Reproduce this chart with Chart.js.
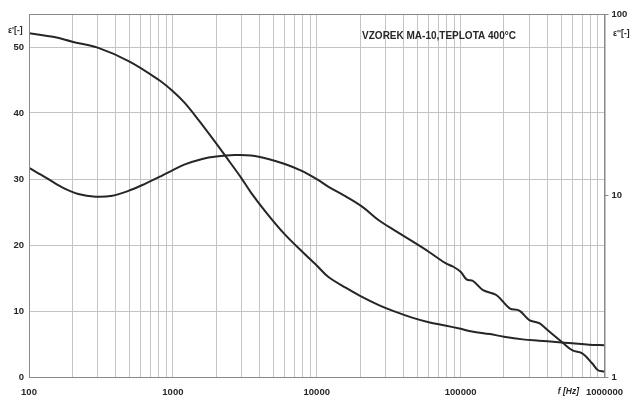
<!DOCTYPE html>
<html>
<head>
<meta charset="utf-8">
<script src="https://cdn.jsdelivr.net/npm/chart.js@4.4.1/dist/chart.umd.min.js"></script>
<style>
  html, body { margin: 0; padding: 0; background: #fff; }
  #wrap { width: 633px; height: 399px; }
</style>
</head>
<body>
<div id="wrap"><canvas id="chart" width="633" height="399"></canvas></div>
<script>
// eps' (left axis)
const freqReal = [100, 150, 200, 300, 500, 800, 1000, 1200, 1500, 2000, 2500, 3000, 3500, 4500, 6000, 8000,
  10000, 12000, 16000, 20000, 27000, 35000, 46000, 60000, 78000, 100000, 120000, 160000, 200000, 270000,
  350000, 460000, 600000, 780000, 1000000];
const epsReal = [52.1, 51.5, 50.8, 49.9, 47.8, 45.0, 43.3, 41.6, 39.0, 35.4, 32.5, 30.1, 27.9, 24.8, 21.6, 18.9,
  16.9, 15.2, 13.5, 12.3, 10.9, 9.9, 9.0, 8.3, 7.8, 7.3, 6.9, 6.5, 6.1, 5.7,
  5.5, 5.3, 5.1, 4.9, 4.8];

// eps'' (right log axis)
const freqImag = [100, 130, 170, 220, 290, 380, 490, 640, 830, 1000, 1200, 1600, 2000, 2700, 3500, 4600, 6000,
  7800, 10000, 12000, 16000, 21000, 27000, 35000, 46000, 60000, 78000, 89000, 100000, 110000, 122000, 143000,
  177000, 219000, 256000, 300000, 352000, 413000, 510000, 600000, 700000, 820000, 900000, 1000000];
const epsImag = [14.2, 12.6, 11.1, 10.2, 9.85, 9.97, 10.6, 11.6, 12.8, 13.8, 14.8, 15.9, 16.4, 16.7, 16.6, 15.9, 14.9,
  13.7, 12.3, 11.2, 9.85, 8.6, 7.3, 6.4, 5.6, 4.9, 4.25, 4.05, 3.8, 3.45, 3.38, 3.01,
  2.83, 2.39, 2.32, 2.06, 1.98, 1.78, 1.55, 1.40, 1.35, 1.19, 1.09, 1.07];

const xDecades = [100, 1000, 10000, 100000, 1000000];
const leftTicks = [0, 10, 20, 30, 40, 50];
const rightTicks = [1, 10, 100];
const titleText = 'VZOREK MA-10,TEPLOTA 400°C';

// grid lines at 1..9 x each decade
const xGrid = [];
xDecades.forEach((d, i) => {
  if (i === xDecades.length - 1) { xGrid.push(d); return; }
  for (let m = 1; m <= 9; m++) xGrid.push(d * m);
});

const FONT = '"Liberation Sans", Arial, sans-serif';
const INK = '#262626';

const frameAndText = {
  id: 'frameAndText',
  afterDraw(chart) {
    const { ctx, chartArea: a } = chart;
    ctx.save();
    ctx.strokeStyle = '#8a8a8a';
    ctx.lineWidth = 1;
    ctx.strokeRect(a.left + 0.5, a.top + 0.5, a.right - a.left, a.bottom - a.top);
    ctx.fillStyle = INK;
    ctx.textBaseline = 'middle';
    ctx.font = 'bold 10px ' + FONT;
    ctx.textAlign = 'center';
    ctx.fillText(titleText, 439, 36);
    ctx.font = 'bold 8.5px ' + FONT;
    ctx.textAlign = 'left';
    ctx.fillText("ε'[-]", 8, 31);
    ctx.fillText("ε''[-]", 613, 34);
    ctx.font = 'italic bold 8.5px ' + FONT;
    ctx.textAlign = 'right';
    ctx.fillText('f [Hz]', 579, 392);
    ctx.restore();
  }
};

new Chart(document.getElementById('chart'), {
  type: 'line',
  data: {
    datasets: [
      {
        label: "ε'",
        data: freqReal.map((f, i) => ({ x: f, y: epsReal[i] })),
        yAxisID: 'y',
        borderColor: INK,
        borderWidth: 2,
        pointRadius: 0,
        tension: 0.35,
        fill: false
      },
      {
        label: "ε''",
        data: freqImag.map((f, i) => ({ x: f, y: epsImag[i] })),
        yAxisID: 'y2',
        borderColor: INK,
        borderWidth: 2,
        pointRadius: 0,
        tension: 0.35,
        fill: false
      }
    ]
  },
  options: {
    responsive: false,
    animation: false,
    layout: { padding: { top: 14, left: 0, right: 0, bottom: 0 } },
    plugins: { legend: { display: false }, tooltip: { enabled: false } },
    scales: {
      x: {
        type: 'logarithmic',
        min: 100,
        max: 1000000,
        afterBuildTicks(scale) { scale.ticks = xGrid.map(v => ({ value: v })); },
        afterFit(scale) { scale.height = 22; },
        grid: { color: '#c4c4c4', lineWidth: 1, drawTicks: false },
        border: { color: '#8a8a8a' },
        ticks: {
          autoSkip: false,
          maxRotation: 0,
          padding: 10,
          color: INK,
          font: { family: FONT, size: 9.5, weight: 'bold' },
          callback: v => (xDecades.includes(v) ? String(v) : '')
        }
      },
      y: {
        type: 'linear',
        position: 'left',
        min: 0,
        max: 55,
        afterBuildTicks(scale) { scale.ticks = leftTicks.map(v => ({ value: v })); },
        afterFit(scale) { scale.width = 29; },
        grid: { color: '#c4c4c4', lineWidth: 1, drawTicks: false },
        border: { color: '#8a8a8a' },
        ticks: {
          padding: 5,
          color: INK,
          font: { family: FONT, size: 9.5, weight: 'bold' }
        }
      },
      y2: {
        type: 'logarithmic',
        position: 'right',
        min: 1,
        max: 100,
        afterBuildTicks(scale) { scale.ticks = rightTicks.map(v => ({ value: v })); },
        afterFit(scale) { scale.width = 24; },
        grid: { drawOnChartArea: false, color: '#8a8a8a', tickLength: 4 },
        border: { color: '#8a8a8a' },
        ticks: {
          padding: 3,
          color: INK,
          font: { family: FONT, size: 9.5, weight: 'bold' },
          callback: v => String(v)
        }
      }
    }
  },
  plugins: [frameAndText]
});
</script>
</body>
</html>
